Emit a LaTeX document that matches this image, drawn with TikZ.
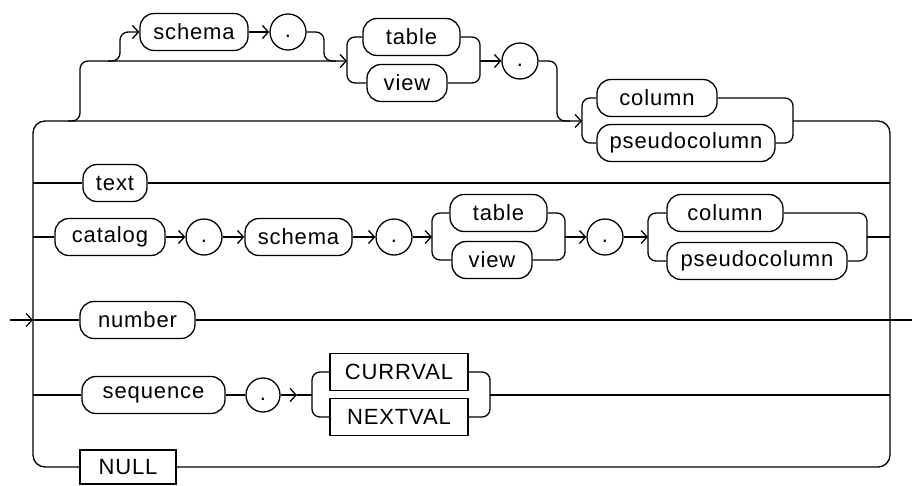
\documentclass[tikz,border=0pt]{standalone}
\usepackage{fontspec}
\setmainfont[LetterSpace=4]{Liberation Sans}
\usetikzlibrary{arrows.meta}
\begin{document}
\begin{tikzpicture}[x=1pt,y=-1pt, line width=1.3pt,
  term/.style={draw, rounded corners=14pt, minimum height=37pt, inner sep=0pt, font=\fontsize{22}{26}\selectfont},
  kw/.style={draw, rectangle, minimum height=37pt, inner sep=0pt, font=\fontsize{22}{26}\selectfont},
  dotnode/.style={draw, circle, minimum size=36pt, inner sep=0pt, font=\fontsize{22}{26}\selectfont},
  arr/.style={-{Straight Barb[length=6pt,width=13pt]}},
  br/.style={rounded corners=8pt},
  bar/.style={rounded corners=12pt}]
\useasboundingbox (0,0) rectangle (912,485);
% nodes
\node[term, minimum width=108pt] (schemaA) at (194,32) {schema};
\node[dotnode] (dotA) at (288,32) {\vphantom{x}.};
\node[term, minimum width=97pt] (tableA) at (411.5,37) {table};
\node[term, minimum width=80pt] (viewA) at (407,83) {view};
\node[dotnode] (dotB) at (520,61) {\vphantom{x}.};
\node[term, minimum width=120pt] (columnA) at (657,98) {column};
\node[term, minimum width=178pt] (pcolumnA) at (686,143) {pseudocolumn};
\node[term, minimum width=64pt] (text) at (115,183) {text};
\node[term, minimum width=110pt] (catalog) at (110,237) {catalog};
\node[dotnode] (dotC) at (204,237) {\vphantom{x}.};
\node[term, minimum width=107pt] (schemaB) at (298.5,237) {schema};
\node[dotnode] (dotD) at (394,237) {\vphantom{x}.};
\node[term, minimum width=97pt] (tableB) at (498.5,213) {table};
\node[term, minimum width=80pt] (viewB) at (492,260) {view};
\node[dotnode] (dotE) at (605,237) {\vphantom{x}.};
\node[term, minimum width=116pt] (columnB) at (725,213) {column};
\node[term, minimum width=180pt] (pcolumnB) at (757,261) {pseudocolumn};
\node[term, minimum width=115pt] (number) at (137.5,320) {number};
\node[term, minimum width=143pt] (sequence) at (153.5,395) {sequence};
\node[dotnode, minimum size=34pt] (dotF) at (263,395) {\vphantom{x}.};
\node[kw, minimum width=138pt] (currval) at (399,372) {CURRVAL};
\node[kw, minimum width=138pt] (nextval) at (399,417) {NEXTVAL};
\node[kw, minimum width=96pt, minimum height=34pt] (null) at (128,467) {NULL};
% coordinates
\coordinate (start) at (10,320);
\coordinate (Lt) at (33,121); \coordinate (Lb) at (33,467);
\coordinate (Rt) at (890,121); \coordinate (Rb) at (890,467);
\coordinate (Lm) at (33,320); \coordinate (Rm) at (890,320);
\coordinate (end) at (912,320);
\coordinate (Ltext) at (33,183); \coordinate (Rtext) at (890,183);
\coordinate (Lcat) at (33,237); \coordinate (Rcat) at (890,237);
\coordinate (Lseq) at (33,395); \coordinate (Rseq) at (890,395);
\coordinate (brA) at (582,121); \coordinate (brAo) at (793,121);
\coordinate (brTin) at (347,61); \coordinate (brTout) at (480,61);
\coordinate (brBin) at (432,237); \coordinate (brBout) at (565,237);
\coordinate (brCin) at (648,237); \coordinate (brCout) at (867,237);
\coordinate (brSin) at (312,395); \coordinate (brSout) at (490,395);
\coordinate (seqArr) at (297,395);
\coordinate (b1) at (68,121); \coordinate (b2) at (108,61);
\coordinate (j1) at (336,61); \coordinate (j2) at (570,121);
% outer frame
\draw[arr] (start) -- (Lm);
\draw[arr, bar] (null.west) -- (Lb) -- (Lt) -- (brA);
\draw[bar] (brAo) -- (Rt) -- (Rb) -- (null.east);
\draw (Rm) -- (end);
% top rows
\draw[arr, br] (b1) -- (80,121) -- (80,61) -- (brTin);
\draw[arr, br] (b2) -- (120,61) -- (120,32) -- (schemaA.west);
\draw[arr] (schemaA) -- (dotA);
\draw[br] (dotA.east) -- (324,32) -- (324,61) -- (j1);
\draw[br] (tableA.west) -| (brTin) |- (viewA.west);
\draw[br] (tableA.east) -| (brTout) |- (viewA.east);
\draw[arr] (brTout) -- (dotB);
\draw[br] (dotB.east) -- (557,61) -- (557,121) -- (j2);
\draw[br] (columnA.west) -| (brA) |- (pcolumnA.west);
\draw[br] (columnA.east) -| (brAo) |- (pcolumnA.east);
% text row
\draw (Ltext) -- (text);
\draw (text) -- (Rtext);
% catalog row
\draw (Lcat) -- (catalog);
\draw[arr] (catalog) -- (dotC);
\draw[arr] (dotC) -- (schemaB);
\draw[arr] (schemaB) -- (dotD);
\draw[arr] (dotD) -- (brBin);
\draw[br] (tableB.west) -| (brBin) |- (viewB.west);
\draw[br] (tableB.east) -| (brBout) |- (viewB.east);
\draw[arr] (brBout) -- (dotE);
\draw[arr] (dotE) -- (brCin);
\draw[br] (columnB.west) -| (brCin) |- (pcolumnB.west);
\draw[br] (columnB.east) -| (brCout) |- (pcolumnB.east);
\draw (brCout) -- (Rcat);
% number row
\draw (Lm) -- (number);
\draw (number) -- (Rm);
% sequence row
\draw (Lseq) -- (sequence);
\draw (sequence) -- (dotF);
\draw[arr] (dotF) -- (seqArr);
\draw (seqArr) -- (brSin);
\draw[br] (currval.west) -| (brSin) |- (nextval.west);
\draw[br] (currval.east) -| (brSout) |- (nextval.east);
\draw (brSout) -- (Rseq);
\end{tikzpicture}
\end{document}
